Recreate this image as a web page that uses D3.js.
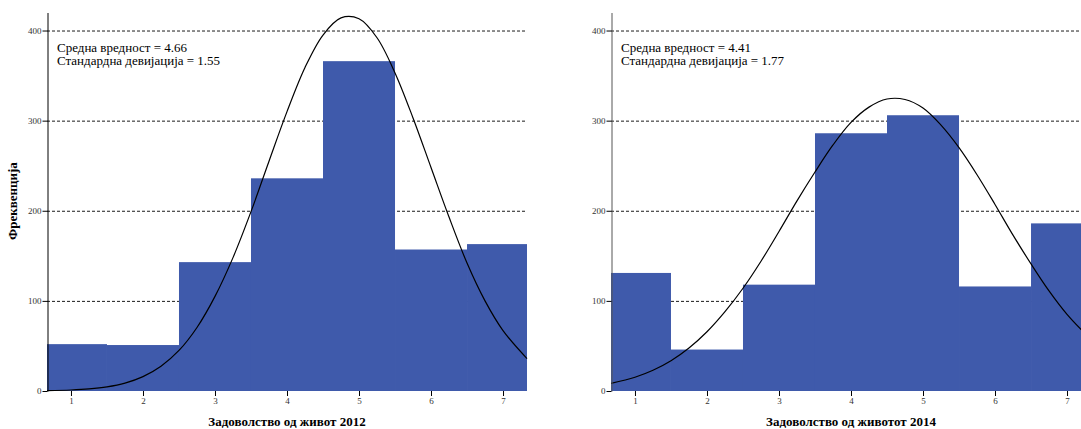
<!DOCTYPE html>
<html>
<head>
<meta charset="utf-8">
<script src="https://cdn.jsdelivr.net/npm/d3@7"></script>
<style>
    body { margin: 0; background: #fff; }
    svg { display: block; }
    svg text { font-family: "Liberation Serif", "Times New Roman", Times, serif; }
</style>
</head>
<body>
<div id="chart"></div>
<script>
// категории (средини на бинови) и вредности
const bins = [1, 2, 3, 4, 5, 6, 7];
const counts2012 = [52, 51, 143, 236, 366, 157, 163];
const counts2014 = [131, 46, 118, 286, 306, 116, 186];
const yTicks = [0, 100, 200, 300, 400];

// нормална крива, точки читани од сликата
const curveX = [0.667, 1, 1.25, 1.5, 1.75, 2, 2.25, 2.5, 2.75, 3, 3.25, 3.5, 3.75, 4, 4.25, 4.5,
    4.75, 5, 5.25, 5.5, 5.75, 6, 6.25, 6.5, 6.75, 7, 7.333];
const curveY2012 = [0.4, 1.1, 2.3, 4.6, 8.8, 16, 27.5, 45, 70.5, 105, 148, 199, 255, 310, 359, 395,
    414, 413, 392, 353, 303, 248, 193, 142, 100, 67, 36];
const curveY2014 = [8.5, 15.3, 23, 33.6, 47.7, 65.7, 88, 114, 144, 177, 211, 243, 273, 298, 315, 324,
    323.5, 314, 295, 270, 240, 207, 173, 141, 111, 85, 57];

const statLines2012 = ['Средна вредност = 4.66', 'Стандардна девијација = 1.55'];
const statLines2014 = ['Средна вредност = 4.41', 'Стандардна девијација = 1.77'];

const W = 1081, H = 429;
const FONT = '"Liberation Serif", "Times New Roman", Times, serif';
let svg = d3.select('#chart').append('svg').attr('width', W).attr('height', H);

//нацртај еден хистограм
let drawPanel = function (cfg) {
    let xScale = d3.scaleLinear().domain([0.667, 7.333]).range([cfg.x0, cfg.x0 + 480]);
    let yScale = d3.scaleLinear().domain([0, 420]).range([391, 12.5]);
    let g = svg.append('g');

    //мрежа
    g.selectAll('line.grid')
        .data(yTicks.filter(d => d > 0))
        .enter()
        .append('line')
        .attr('class', 'grid')
        .attr('x1', xScale.range()[0])
        .attr('x2', xScale.range()[1])
        .attr('y1', d => yScale(d) + 0.5)
        .attr('y2', d => yScale(d) + 0.5)
        .attr('stroke', '#000')
        .attr('stroke-width', 0.9)
        .attr('stroke-dasharray', '3,2');

    //столбови
    let dom = xScale.domain();
    g.selectAll('rect.bar')
        .data(cfg.counts)
        .enter()
        .append('rect')
        .attr('class', 'bar')
        .attr('x', (d, i) => xScale(Math.max(dom[0], bins[i] - 0.5)))
        .attr('width', (d, i) => xScale(Math.min(dom[1], bins[i] + 0.5)) - xScale(Math.max(dom[0], bins[i] - 0.5)))
        .attr('y', d => yScale(d))
        .attr('height', d => yScale(0) - yScale(d))
        .attr('fill', '#3f5aab');

    //крива
    let pts = curveX.map((x, i) => [x, cfg.cy[i]]);
    let line = d3.line()
        .x(d => xScale(d[0]))
        .y(d => yScale(d[1]))
        .curve(d3.curveCatmullRom.alpha(0.5));
    g.append('path')
        .attr('d', line(pts))
        .attr('fill', 'none')
        .attr('stroke', '#000')
        .attr('stroke-width', 1.2);

    //оски
    let yAxis = d3.axisLeft(yScale).tickValues(yTicks).tickSize(5).tickSizeOuter(0).tickPadding(1);
    let ya = g.append('g').attr('transform', 'translate(' + (cfg.x0 + 0.5) + ',0)').call(yAxis);
    ya.attr('font-family', FONT);
    ya.select('.domain').attr('stroke', cfg.axisColor);
    ya.selectAll('.tick line').attr('stroke', '#000');
    ya.selectAll('.tick text').attr('font-size', 9).attr('fill', '#333');

    let xAxis = d3.axisBottom(xScale).tickValues(bins).tickSize(5).tickPadding(2).tickFormat(d3.format('d'));
    let xa = g.append('g').attr('transform', 'translate(0,391)').call(xAxis);
    xa.attr('font-family', FONT);
    xa.select('.domain').remove();
    xa.selectAll('.tick text').attr('font-size', 9).attr('fill', '#333');

    //статистика
    g.append('text')
        .attr('x', cfg.x0 + 10)
        .attr('y', 51.5)
        .attr('font-size', 13)
        .selectAll('tspan')
        .data(cfg.stats)
        .enter()
        .append('tspan')
        .attr('x', cfg.x0 + 10)
        .attr('dy', (d, i) => i === 0 ? 0 : 13.5)
        .text(d => d);

    //наслов на x оската
    g.append('text')
        .attr('x', (xScale.range()[0] + xScale.range()[1]) / 2)
        .attr('y', 426)
        .attr('text-anchor', 'middle')
        .attr('font-size', 13)
        .attr('font-weight', 'bold')
        .text(cfg.xTitle);

    if (cfg.yTitle) {
        g.append('text')
            .attr('transform', 'translate(17,201) rotate(-90)')
            .attr('text-anchor', 'middle')
            .attr('font-size', 13)
            .attr('font-weight', 'bold')
            .text(cfg.yTitle);
    }
};

drawPanel({
    x0: 47, counts: counts2012, cy: curveY2012, stats: statLines2012,
    xTitle: 'Задоволство од живот 2012', yTitle: 'Фреквенција', axisColor: '#000'
});
drawPanel({
    x0: 611, counts: counts2014, cy: curveY2014, stats: statLines2014,
    xTitle: 'Задоволство од животот 2014', axisColor: '#555'
});
</script>
</body>
</html>
